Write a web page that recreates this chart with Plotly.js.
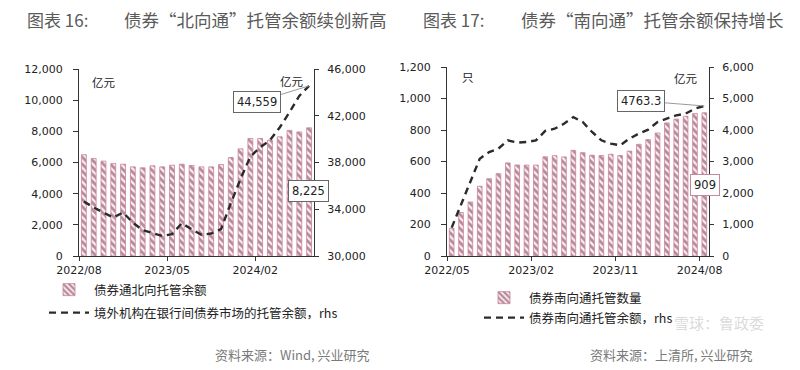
<!DOCTYPE html>
<html><head><meta charset="utf-8">
<script src="https://cdn.plot.ly/plotly-3.0.1.min.js"></script>
<style>html,body{margin:0;padding:0;background:#fff}#chart{width:800px;height:370px}</style>
</head><body><div id="chart"></div>
<script>
// ---------- data ----------
const leftMonths = ["2022/08","2022/09","2022/10","2022/11","2022/12","2023/01","2023/02","2023/03","2023/04","2023/05","2023/06","2023/07","2023/08","2023/09","2023/10","2023/11","2023/12","2024/01","2024/02","2024/03","2024/04","2024/05","2024/06","2024/07"];
const leftTickLabels = ["2022/08","2023/05","2024/02"];
const northboundBalance = [6500,6260,6090,5940,5890,5720,5660,5790,5720,5830,5890,5810,5720,5720,5870,6320,6880,7540,7540,7440,7650,8060,7960,8225];
const foreignInterbankBalance = [34670,34150,33720,33290,33720,32860,32210,31950,31720,31870,32800,32290,31810,31920,32300,34500,36600,38500,39300,39900,41000,42300,43700,44559];

const rightMonths = ["2022/05","2022/06","2022/07","2022/08","2022/09","2022/10","2022/11","2022/12","2023/01","2023/02","2023/03","2023/04","2023/05","2023/06","2023/07","2023/08","2023/09","2023/10","2023/11","2023/12","2024/01","2024/02","2024/03","2024/04","2024/05","2024/06","2024/07","2024/08"];
const rightTickLabels = ["2022/05","2023/02","2023/11","2024/08"];
const southboundCount = [176,276,343,443,491,523,591,578,577,577,630,637,629,671,656,640,638,646,638,666,709,739,781,845,869,887,904,909];
const southboundBalance = [900,1650,2350,3090,3300,3410,3670,3600,3620,3670,3970,4040,4200,4410,4254,3937,3673,3568,3514,3727,3886,4013,4254,4362,4467,4520,4679,4763.3];

// ---------- layout helpers ----------
const W = 800, H = 370;
const px = v => v / W;
const py = v => 1 - v / H;
const L = {x0: 79, x1: 314, yTop: 69, yBot: 256};
const R = {x0: 447, x1: 709, yTop: 67, yBot: 256};
const CJK = '"Noto Sans CJK SC", "Noto Sans", sans-serif';
const NUM = '"DejaVu Sans", Verdana, sans-serif';
const AX = '#333';

const leftIdx = leftMonths.map((_, i) => i);
const rightIdx = rightMonths.map((_, i) => i);
const leftTickVals = leftTickLabels.map(l => leftMonths.indexOf(l) - 0.5);
const rightTickVals = rightTickLabels.map(l => rightMonths.indexOf(l) - 0.5);
const leftShift = (L.x1 - L.x0) / leftMonths.length / 2;
const rightShift = (R.x1 - R.x0) / rightMonths.length / 2;

const barMarker = {
  color: '#fcf0f4',
  line: {color: '#c98396', width: 0.8},
  pattern: {shape: '\\', fillmode: 'overlay', fgcolor: '#6e2343', size: 5, solidity: 0.55}
};
const dashLine = {color: '#2b2b2b', width: 2.4, dash: '7px,5px'};

const traces = [
  {type: 'bar', x: leftIdx, y: northboundBalance, xaxis: 'x', yaxis: 'y',
   name: '债券通北向托管余额', legend: 'legend', marker: barMarker, hoverinfo: 'y'},
  {type: 'scatter', mode: 'lines', x: leftIdx, y: foreignInterbankBalance, xaxis: 'x', yaxis: 'y2',
   name: '境外机构在银行间债券市场的托管余额，rhs', legend: 'legend2', line: dashLine, hoverinfo: 'y'},
  {type: 'bar', x: rightIdx, y: southboundCount, xaxis: 'x2', yaxis: 'y3',
   name: '债券南向通托管数量', legend: 'legend3', marker: barMarker, hoverinfo: 'y'},
  {type: 'scatter', mode: 'lines', x: rightIdx, y: southboundBalance, xaxis: 'x2', yaxis: 'y4',
   name: '债券南向通托管余额，rhs', legend: 'legend4', line: dashLine, hoverinfo: 'y'}
];

const tickFont = {family: NUM, size: 11, color: '#222'};
function xAxis(box, n, vals, labels, shift, anchor) {
  return {domain: [px(box.x0), px(box.x1)], anchor: anchor, range: [-0.5, n - 0.5],
    tickmode: 'array', tickvals: vals, ticktext: labels, ticklabelshift: shift,
    ticks: 'outside', ticklen: 4, tickcolor: AX, showline: true, linecolor: AX, linewidth: 1,
    showgrid: false, zeroline: false, tickfont: tickFont, fixedrange: true};
}
function yAxis(box, range, dtick, anchor, side, overlay) {
  const a = {domain: [py(box.yBot), py(box.yTop)], anchor: anchor, range: range,
    tick0: range[0], dtick: dtick,
    tickformat: ',d', ticks: 'outside', ticklen: side === 'right' ? 4 : 5, tickcolor: AX,
    showline: true, linecolor: AX, linewidth: 1, showgrid: false, zeroline: false,
    tickfont: tickFont, side: side, fixedrange: true,
    ticklabelstandoff: side === 'right' ? 6 : 8};
  if (overlay) { a.overlaying = overlay; delete a.domain; }
  return a;
}
function legendAt(x, y) {
  return {x: px(x), y: py(y), xanchor: 'left', yanchor: 'middle', bgcolor: 'rgba(0,0,0,0)',
    borderwidth: 0, itemwidth: 40, font: {family: CJK, size: 12.5, color: '#222'},
    itemclick: false, itemdoubleclick: false};
}
function note(x, y, text, size, color, family, anchor) {
  return {xref: 'paper', yref: 'paper', x: px(x), y: py(y), text: text, showarrow: false,
    xanchor: anchor || 'left', yanchor: 'middle', font: {family: family || CJK, size: size, color: color}};
}

const n = leftMonths.length - 1, m = rightMonths.length - 1;
const annotations = [
  note(25, 19, '图表 16:', 17, '#5a5a5a'),
  note(122, 19, '债券“北向通”托管余额续创新高', 17.5, '#5a5a5a'),
  note(421, 19, '图表 17:', 17, '#5a5a5a'),
  note(519, 19, '债券“南向通”托管余额保持增长', 17.5, '#5a5a5a'),
  note(90, 82, '亿元', 11.5, '#222'),
  note(278, 81, '亿元', 11.5, '#222'),
  note(460, 77, '只', 11.5, '#222'),
  note(672, 78, '亿元', 11.5, '#222'),
  note(213, 354, '资料来源：Wind, 兴业研究', 13, '#7a7a7a'),
  note(588, 354, '资料来源：上清所, 兴业研究', 13, '#7a7a7a'),
  note(672, 322, '雪球：鲁政委', 15, 'rgba(160,160,160,0.4)'),
  {xref: 'x', yref: 'y2', x: n, y: foreignInterbankBalance[n], text: foreignInterbankBalance[n].toLocaleString('en-US'),
   showarrow: true, arrowhead: 0, arrowwidth: 1, arrowcolor: '#9a9a9a', ax: -52, ay: 16,
   bordercolor: '#666', borderwidth: 1, borderpad: 3, bgcolor: '#fff', font: {family: NUM, size: 11.5, color: '#222'}},
  {xref: 'x', yref: 'y', x: n, y: northboundBalance[n], text: northboundBalance[n].toLocaleString('en-US'),
   showarrow: false, yshift: -63, xshift: -1,
   bordercolor: '#666', borderwidth: 1, borderpad: 3, bgcolor: '#fff', font: {family: NUM, size: 11.5, color: '#222'}},
  {xref: 'x2', yref: 'y4', x: m, y: southboundBalance[m], text: String(southboundBalance[m]),
   showarrow: true, arrowhead: 0, arrowwidth: 1, arrowcolor: '#9a9a9a', ax: -63, ay: -5,
   bordercolor: '#666', borderwidth: 1, borderpad: 3, bgcolor: '#fff', font: {family: NUM, size: 11.5, color: '#222'}},
  {xref: 'x2', yref: 'y3', x: m, y: southboundCount[m], text: String(southboundCount[m]),
   showarrow: false, yshift: -72, xshift: 1,
   bordercolor: '#c48a9a', borderwidth: 1, borderpad: 3, bgcolor: '#fff', font: {family: NUM, size: 11.5, color: '#222'}}
];

const layout = {
  width: W, height: H, margin: {l: 0, r: 0, t: 0, b: 0, autoexpand: false},
  paper_bgcolor: '#fff', plot_bgcolor: 'rgba(0,0,0,0)',
  bargap: 0.5, showlegend: true, hovermode: 'closest',
  xaxis: xAxis(L, leftMonths.length, leftTickVals, leftTickLabels, leftShift, 'y'),
  yaxis: yAxis(L, [0, 12000], 2000, 'x', 'left'),
  yaxis2: yAxis(L, [30000, 46000], 4000, 'x', 'right', 'y'),
  xaxis2: xAxis(R, rightMonths.length, rightTickVals, rightTickLabels, rightShift, 'y3'),
  yaxis3: yAxis(R, [0, 1200], 200, 'x2', 'left'),
  yaxis4: yAxis(R, [0, 6000], 1000, 'x2', 'right', 'y3'),
  legend: legendAt(44, 290),
  legend2: legendAt(44, 313),
  legend3: legendAt(479, 298),
  legend4: legendAt(479, 318),
  annotations: annotations
};

Plotly.newPlot('chart', traces, layout, {displayModeBar: false, staticPlot: true});
</script>
</body></html>
